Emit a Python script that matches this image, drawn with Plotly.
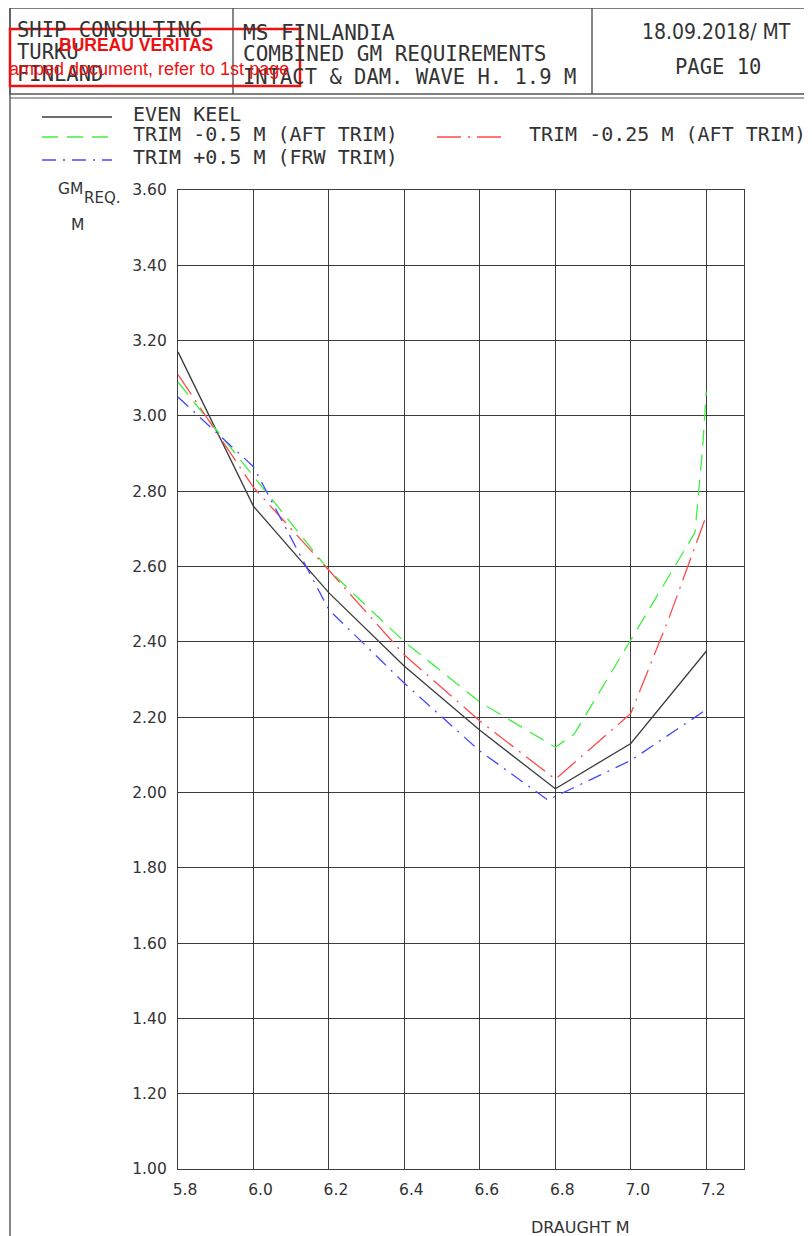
import plotly.graph_objects as go

# ---------------- data ----------------
x_even = [5.8, 6.0, 6.2, 6.4, 6.6, 6.8, 7.0, 7.2]
gm_even = [3.17, 2.76, 2.53, 2.335, 2.165, 2.01, 2.13, 2.375]

x_aft50 = [5.8, 6.0, 6.2, 6.4, 6.6, 6.8, 6.85, 7.0, 7.17, 7.18, 7.19, 7.2]
gm_aft50 = [3.09, 2.84, 2.59, 2.40, 2.24, 2.12, 2.155, 2.405, 2.69, 2.80, 2.91, 3.065]

x_aft25 = [5.8, 6.0, 6.2, 6.4, 6.6, 6.8, 7.0, 7.1, 7.2]
gm_aft25 = [3.11, 2.81, 2.59, 2.365, 2.19, 2.035, 2.21, 2.46, 2.735]

x_frw50 = [5.8, 6.0, 6.2, 6.4, 6.6, 6.78, 7.0, 7.2]
gm_frw50 = [3.05, 2.865, 2.485, 2.29, 2.11, 1.98, 2.085, 2.22]

x_ticks = [5.8, 6.0, 6.2, 6.4, 6.6, 6.8, 7.0, 7.2]
x_ticktext = ["5.8", "6.0", "6.2", "6.4", "6.6", "6.8", "7.0", "7.2"]
y_ticks = [1.0, 1.2, 1.4, 1.6, 1.8, 2.0, 2.2, 2.4, 2.6, 2.8, 3.0, 3.2, 3.4, 3.6]
y_ticktext = ["%.2f" % v for v in y_ticks]

series_names = ["EVEN KEEL", "TRIM -0.5 M (AFT TRIM)", "TRIM -0.25 M (AFT TRIM)", "TRIM +0.5 M (FRW TRIM)"]

# ---------------- styling ----------------
OFF = 8                      # page body offset of the figure
W, H = 812 - OFF, 1236 - OFF
L, R, T, B = 178, 744, 190, 1169   # plot area in page pixels
styles = [
    dict(color="#3c3c3c", width=1.3, dash="solid"),
    dict(color="#40ee40", width=1.3, dash="16px,9px"),
    dict(color="#ff4a4a", width=1.3, dash="24px,7px,2px,7px"),
    dict(color="#4848ff", width=1.3, dash="14px,7px,2px,7px"),
]
CAD = "DejaVu Sans Mono"


def px(x):
    return (x - L) / (R - L)


def py(y):
    return (B - y) / (B - T)


fig = go.Figure()
for xs, ys, name, st in zip([x_even, x_aft50, x_aft25, x_frw50],
                            [gm_even, gm_aft50, gm_aft25, gm_frw50],
                            series_names, styles):
    fig.add_trace(go.Scatter(x=xs, y=ys, mode="lines", name=name, line=st,
                             showlegend=False, hoverinfo="x+y+name"))

shapes = []
annotations = []

# ---- page frame / header ----
frame_col = "#555555"
shapes.append(dict(type="rect", xref="paper", yref="paper", x0=px(10), x1=px(810), y0=py(8), y1=py(94),
                   line=dict(color=frame_col, width=1.4), layer="above"))
shapes.append(dict(type="line", xref="paper", yref="paper", x0=px(233), x1=px(233), y0=py(8), y1=py(94),
                   line=dict(color=frame_col, width=1.4)))
shapes.append(dict(type="line", xref="paper", yref="paper", x0=px(592), x1=px(592), y0=py(8), y1=py(94),
                   line=dict(color=frame_col, width=1.4)))
shapes.append(dict(type="line", xref="paper", yref="paper", x0=px(10), x1=px(812), y0=py(98), y1=py(98),
                   line=dict(color=frame_col, width=1.2)))
shapes.append(dict(type="line", xref="paper", yref="paper", x0=px(10), x1=px(10), y0=py(8), y1=py(1236),
                   line=dict(color=frame_col, width=1.4)))


def txt(x, y, s, size=20, color="#333333", family=CAD, xanchor="left"):
    annotations.append(dict(x=px(x), y=py(y), xref="paper", yref="paper", text=s, showarrow=False,
                            xanchor=xanchor, yanchor="middle", font=dict(family=family, size=size, color=color)))


txt(15, 30, "SHIP CONSULTING", size=20.5)
txt(15, 52, "TURKU", size=20.5)
txt(15, 74, "FINLAND", size=20.5)
txt(241, 33, "MS FINLANDIA", size=21)
txt(241, 54, "COMBINED GM REQUIREMENTS", size=21)
txt(241, 77, "INTACT & DAM. WAVE H. 1.9 M", size=20.5)
txt(716, 32, "18.09.2018/ MT", size=21, xanchor="center", family="DejaVu Sans Condensed")
txt(718, 67, "PAGE 10", size=20.5, xanchor="center")

# red stamp
shapes.append(dict(type="rect", xref="paper", yref="paper", x0=px(10), x1=px(300), y0=py(29), y1=py(86),
                   line=dict(color="#ee1111", width=2.5)))
txt(136, 45, "<b>BUREAU VERITAS</b>", size=17.5, color="#ee1111", family="Liberation Sans", xanchor="center")
txt(7, 69, "amped document, refer to 1st page", size=18, color="#ee1111", family="Liberation Sans")

# ---- legend (drawn) ----
leg = [(series_names[0], 42, 112, 117, 131),
       (series_names[1], 42, 112, 137, 131),
       (series_names[2], 437, 507, 137, 527),
       (series_names[3], 42, 112, 160, 131)]
for (name, lx0, lx1, ly, tx), st in zip(leg, styles):
    shapes.append(dict(type="line", xref="paper", yref="paper", x0=px(lx0), x1=px(lx1), y0=py(ly), y1=py(ly),
                       line=st))
    txt(tx, ly - 3, name, size=20)

# ---- axis titles ----
txt(70, 189, "GM", size=15.5, family="DejaVu Sans", xanchor="center")
txt(102, 198, "REQ.", size=15, family="DejaVu Sans", xanchor="center")
txt(77, 225, "M", size=15.5, family="DejaVu Sans", xanchor="center")
txt(580, 1227, "DRAUGHT M", size=16, family="DejaVu Sans", xanchor="center")

grid_col = "rgba(40,40,40,0.9)"
fig.update_layout(
    width=W, height=H,
    margin=dict(l=L - OFF, r=W - (R - OFF), t=T - OFF, b=H - (B - OFF)),
    paper_bgcolor="white", plot_bgcolor="white",
    showlegend=False,
    shapes=shapes, annotations=annotations,
    xaxis=dict(range=[5.8, 7.3], tickmode="array", tickvals=x_ticks, ticktext=x_ticktext,
               showgrid=True, gridcolor=grid_col, gridwidth=1.3, zeroline=False,
               showline=True, mirror=True, linecolor=grid_col, linewidth=1.3,
               ticks="", ticklabelshift=7, ticklabelstandoff=6,
               tickfont=dict(family="DejaVu Sans", size=15.5, color="#333333")),
    yaxis=dict(range=[1.0, 3.6], tickmode="array", tickvals=y_ticks, ticktext=y_ticktext,
               showgrid=True, gridcolor=grid_col, gridwidth=1.3, zeroline=False,
               showline=True, mirror=True, linecolor=grid_col, linewidth=1.3,
               ticks="", ticklabelstandoff=7,
               tickfont=dict(family="DejaVu Sans", size=15.5, color="#333333")),
)

fig.write_html("out.html")
